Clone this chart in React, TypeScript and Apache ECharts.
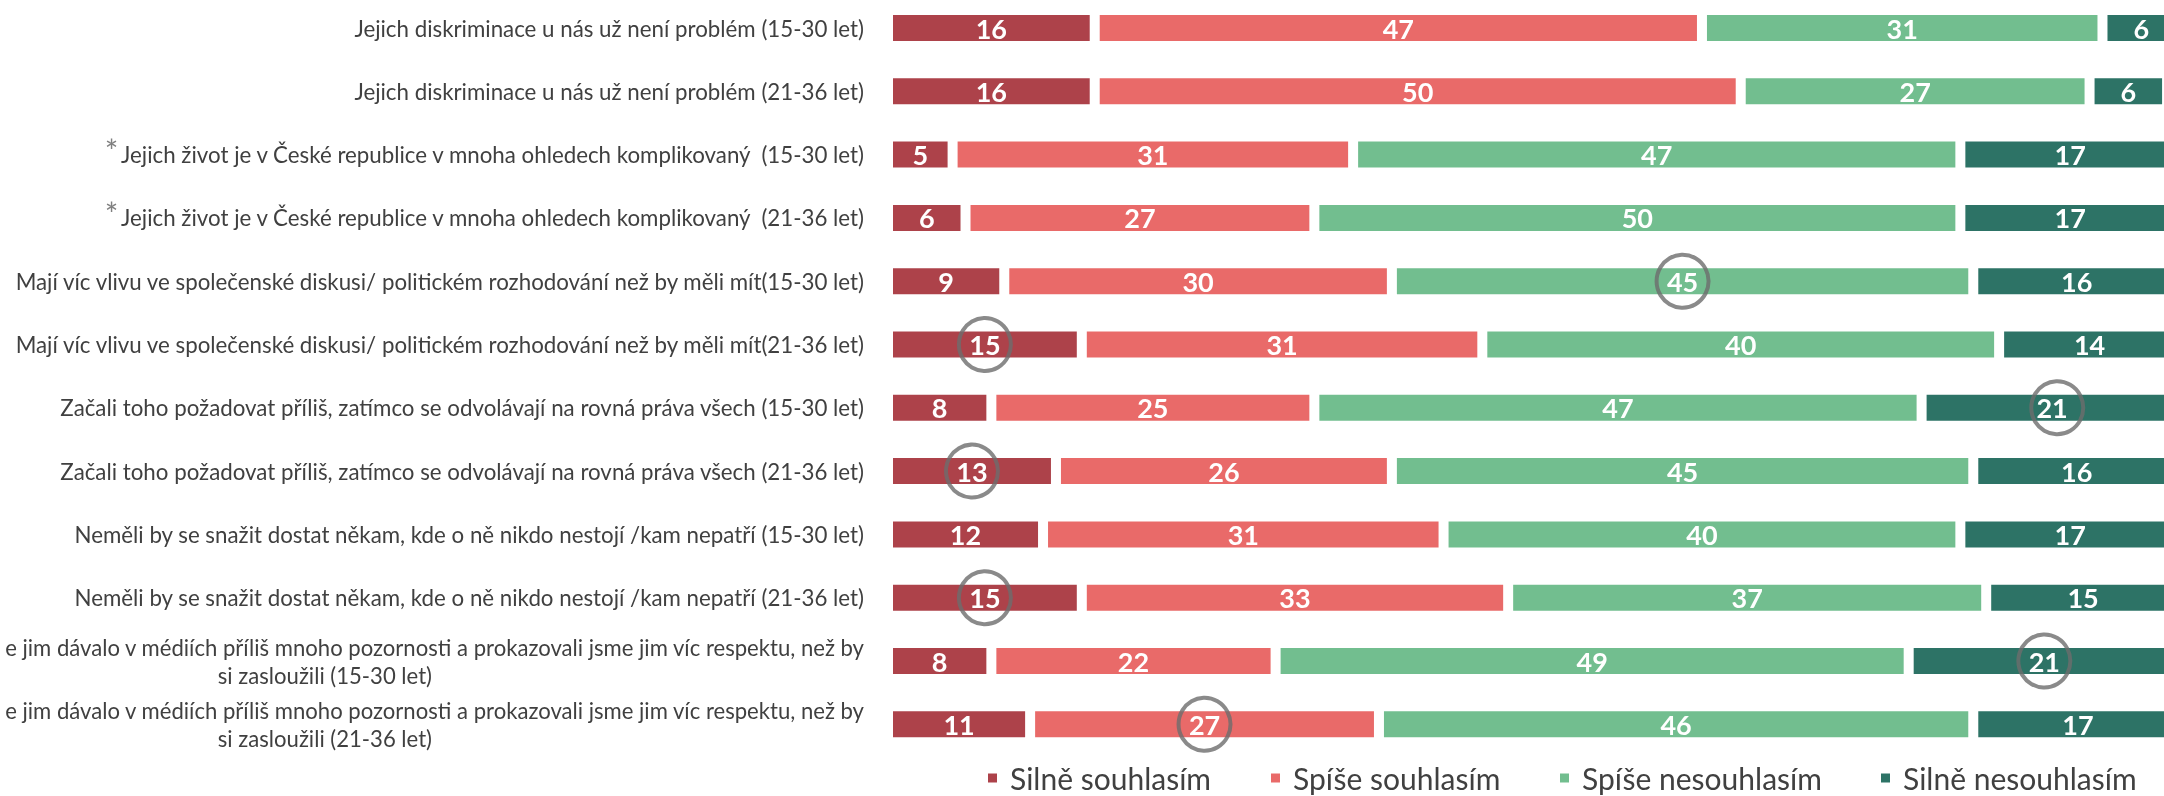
import React, { useEffect, useRef } from "react";
import * as echarts from "echarts";

const categories = [
  "Jejich diskriminace u nás už není problém (15-30 let)",
  "Jejich diskriminace u nás už není problém (21-36 let)",
  "*Jejich život je v České republice v mnoha ohledech komplikovaný  (15-30 let)",
  "*Jejich život je v České republice v mnoha ohledech komplikovaný  (21-36 let)",
  "Mají víc vlivu ve společenské diskusi/ politickém rozhodování než by měli mít(15-30 let)",
  "Mají víc vlivu ve společenské diskusi/ politickém rozhodování než by měli mít(21-36 let)",
  "Začali toho požadovat příliš, zatímco se odvolávají na rovná práva všech (15-30 let)",
  "Začali toho požadovat příliš, zatímco se odvolávají na rovná práva všech (21-36 let)",
  "Neměli by se snažit dostat někam, kde o ně nikdo nestojí /kam nepatří (15-30 let)",
  "Neměli by se snažit dostat někam, kde o ně nikdo nestojí /kam nepatří (21-36 let)",
  "e jim dávalo v médiích příliš mnoho pozornosti a prokazovali jsme jim víc respektu, než by\nsi zasloužili (15-30 let)",
  "e jim dávalo v médiích příliš mnoho pozornosti a prokazovali jsme jim víc respektu, než by\nsi zasloužili (21-36 let)",
];

const seriesNames = ["Silně souhlasím", "Spíše souhlasím", "Spíše nesouhlasím", "Silně nesouhlasím"];
const strongAgree = [16, 16, 5, 6, 9, 15, 8, 13, 12, 15, 8, 11];
const agree = [47, 50, 31, 27, 30, 31, 25, 26, 31, 33, 22, 27];
const disagree = [31, 27, 47, 50, 45, 40, 47, 45, 40, 37, 49, 46];
const strongDisagree = [6, 6, 17, 17, 16, 14, 21, 16, 17, 15, 21, 17];
const colors = ["#AD424A", "#E96A69", "#72BE8F", "#2D7366"];

// circled cells: row index + series index
const circledRows = [4, 5, 6, 7, 9, 10, 11];
const circledSeries = [2, 0, 3, 0, 0, 3, 1];

const FONT = "Lato";
const LABEL_SIZE = 22.3;
const LONG_SIZE = 22.1;

export default function App() {
  const ref = useRef<HTMLDivElement>(null);

  useEffect(() => {
    document.body.style.margin = "0";
    const chart = echarts.init(ref.current!, null, { renderer: "svg" });
    const values = [strongAgree, agree, disagree, strongDisagree];

    const circleData = circledRows.map((r, i) => {
      const s = circledSeries[i];
      let start = 0;
      for (let k = 0; k < s; k++) start += values[k][r];
      return [start + values[s][r] / 2, r];
    });

    const barSeries = seriesNames.map((name, i) => ({
      name,
      type: "bar",
      stack: "total",
      data: values[i],
      barWidth: 36,
      itemStyle: { color: colors[i], borderColor: "#ffffff", borderWidth: 5 },
      label: {
        show: true,
        position: "inside",
        color: "#ffffff",
        fontWeight: "bold",
        fontSize: 27,
        fontFamily: FONT,
      },
      emphasis: { disabled: true },
      silent: true,
    }));

    const legendLefts = [986, 1269, 1558, 1879];

    chart.setOption({
      animation: false,
      textStyle: { fontFamily: FONT },
      grid: {
        left: 888,
        width: 1292,
        top: -3.65,
        height: 759.6,
        containLabel: false,
        outerBoundsMode: "none",
      },
      xAxis: { type: "value", min: 0, max: 100, show: false },
      yAxis: {
        type: "category",
        data: categories,
        inverse: true,
        axisLine: { show: false },
        axisTick: { show: false },
        splitLine: { show: false },
        axisLabel: {
          interval: 0,
          margin: 24,
          fontSize: LABEL_SIZE,
          color: "#404040",
          fontFamily: FONT,
          formatter: (v: string) => {
            if (v.startsWith("*")) return "{ast|*}{t|" + v.slice(1) + "}";
            const parts = v.split("\n");
            if (parts.length > 1) return "{l|" + parts[0] + "}\n{c|" + parts[1] + "}";
            return v;
          },
          rich: {
            ast: {
              fontSize: 32,
              color: "#808080",
              fontFamily: FONT,
              lineHeight: 28,
              padding: [0, 0, 8, 0],
            },
            t: { fontSize: LABEL_SIZE, color: "#404040", fontFamily: FONT, lineHeight: 28 },
            l: { fontSize: LONG_SIZE, color: "#404040", fontFamily: FONT, lineHeight: 28 },
            c: {
              fontSize: LONG_SIZE,
              color: "#404040",
              fontFamily: FONT,
              lineHeight: 28,
              padding: [0, 432, 0, 0],
            },
          },
        },
      },
      legend: seriesNames.map((n, i) => ({
        data: [n],
        left: legendLefts[i],
        top: 763,
        padding: 0,
        itemWidth: 11,
        itemHeight: 11,
        icon: "rect",
        selectedMode: false,
        textStyle: {
          fontSize: 30,
          lineHeight: 30,
          color: "#404040",
          fontFamily: FONT,
          padding: [0, 0, 0, 7],
        },
      })),
      series: [
        ...barSeries,
        {
          type: "scatter",
          data: circleData,
          symbol: "circle",
          symbolSize: [52, 53],
          itemStyle: { color: "rgba(0,0,0,0)", borderColor: "#6d6d6d", borderWidth: 4 },
          z: 5,
          silent: true,
        },
      ],
    });

    return () => chart.dispose();
  }, []);

  return (
    <div
      ref={ref}
      style={{ position: "fixed", left: 0, top: 0, width: 2164, height: 796 }}
    />
  );
}
